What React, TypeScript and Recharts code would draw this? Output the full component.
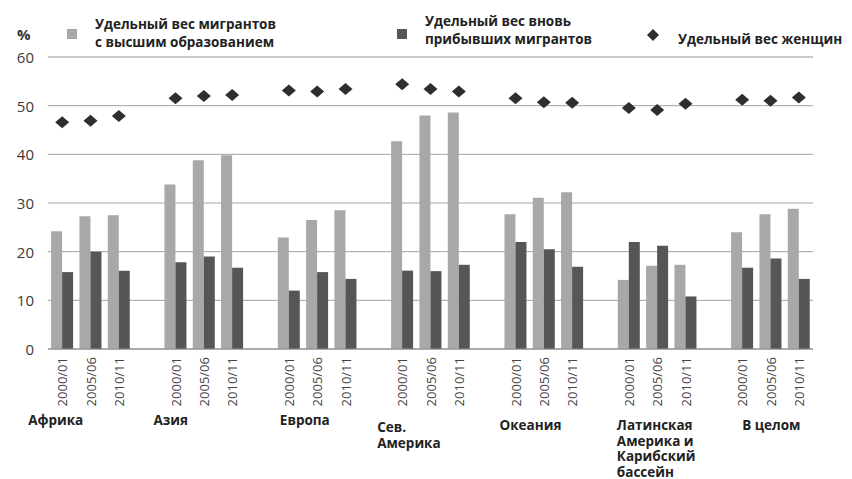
import React from 'react';
import { ComposedChart, Bar, Line, XAxis, YAxis, CartesianGrid } from 'recharts';

const periods = ['2000/01', '2005/06', '2010/11'];
const regionLines = [
  ['Африка'],
  ['Азия'],
  ['Европа'],
  ['Сев.', 'Америка'],
  ['Океания'],
  ['Латинская', 'Америка и', 'Карибский', 'бассейн'],
  ['В целом'],
];
const higherEd = [
  [24.2, 27.3, 27.5],
  [33.8, 38.8, 39.8],
  [22.9, 26.5, 28.5],
  [42.7, 48.0, 48.6],
  [27.7, 31.1, 32.2],
  [14.2, 17.1, 17.3],
  [24.0, 27.7, 28.8],
];
const newArrivals = [
  [15.8, 20.0, 16.1],
  [17.8, 19.0, 16.7],
  [12.0, 15.8, 14.4],
  [16.1, 16.0, 17.3],
  [22.0, 20.5, 16.9],
  [22.0, 21.2, 10.8],
  [16.7, 18.6, 14.4],
];
const women = [
  [46.6, 46.9, 47.9],
  [51.5, 52.0, 52.2],
  [53.1, 52.9, 53.4],
  [54.4, 53.4, 52.9],
  [51.5, 50.7, 50.6],
  [49.5, 49.1, 50.4],
  [51.2, 51.0, 51.7],
];
const yTicks = [0, 10, 20, 30, 40, 50, 60];
const minorTicks = [2, 4, 6, 8, 12, 14, 16, 18, 22, 24, 26, 28, 32, 34, 36, 38, 42, 44, 46, 48, 52, 54, 56, 58];

// layout tweaks for region captions (offset from first category centre)
const labelDx = [-34, -22, -9, -25, -16, -12, 0];
const labelDy = [71, 71, 71, 78, 76, 76, 76];

type Row = {
  key: string;
  period: string;
  region: number;
  pos: number;
  edu: number | null;
  arr: number | null;
  wom: number | null;
};

const data: Row[] = [];
regionLines.forEach((_, r) => {
  periods.forEach((p, i) => {
    data.push({ key: `${r}|${p}`, period: p, region: r, pos: i, edu: higherEd[r][i], arr: newArrivals[r][i], wom: women[r][i] });
  });
  if (r < regionLines.length - 1) {
    data.push({ key: `gap${r}`, period: '', region: r, pos: -1, edu: null, arr: null, wom: null });
  }
});

const FONT = '"Open Sans", sans-serif';
const LIGHT = '#a8a8a8';
const DARK = '#565656';
const DIAMOND = '#2e2e2e';
const W = 852;
const H = 479;
const MARGIN = { top: 57, right: 39, left: 0, bottom: 0 };

const XTick = (props: any) => {
  const { x, y, payload } = props;
  const row = data.find((d) => d.key === payload.value);
  if (!row || row.pos < 0) return <g />;
  const axisY = y - 8;
  const lx = x + labelDx[row.region];
  return (
    <g>
      <text
        transform={`translate(${x},${axisY + 8}) rotate(-90)`}
        textAnchor="end"
        dominantBaseline="central"
        fontFamily={FONT}
        fontSize={13}
        fill="#444"
      >
        {row.period}
      </text>
      {row.pos === 0 && (
        <text
          x={lx}
          y={axisY + labelDy[row.region] + 5}
          fontFamily={FONT}
          fontSize={13.5}
          fontWeight={700}
          fill="#222"
        >
          {regionLines[row.region].map((line, li) => (
            <tspan key={li} x={lx} dy={li === 0 ? 0 : 15.5}>
              {line}
            </tspan>
          ))}
        </text>
      )}
    </g>
  );
};

const YTick = (props: any) => {
  const { y, payload } = props;
  return (
    <text x={34} y={y} textAnchor="end" dominantBaseline="central" fontFamily={FONT} fontSize={15} fill="#3a3a3a">
      {payload.value}
    </text>
  );
};

const DiamondDot = (props: any) => {
  const { cx, cy, value } = props;
  if (value == null || cx == null || cy == null) return <g key={props.key} />;
  return (
    <path
      key={props.key}
      d={`M${cx},${cy - 6} L${cx + 7},${cy} L${cx},${cy + 6} L${cx - 7},${cy} Z`}
      fill={DIAMOND}
    />
  );
};

const legendText: React.CSSProperties = {
  position: 'absolute',
  fontFamily: FONT,
  fontWeight: 700,
  fontSize: 13.5,
  color: '#222',
  lineHeight: '18px',
  whiteSpace: 'nowrap',
};

export default function App() {
  return (
    <div style={{ position: 'absolute', left: 0, top: 0, width: W, height: H, background: '#fff', overflow: 'hidden' }}>
      {/* minor gridlines, drawn behind the main chart with the same layout */}
      <div style={{ position: 'absolute', left: 0, top: 0 }}>
        <ComposedChart width={W} height={H} data={data} margin={MARGIN}>
          <CartesianGrid vertical={false} stroke="#e0e0e0" strokeWidth={1} />
          <XAxis dataKey="key" interval={0} height={130} tick={false} tickLine={false} axisLine={false} />
          <YAxis domain={[0, 60]} ticks={minorTicks} width={48} tick={false} tickLine={false} axisLine={false} />
        </ComposedChart>
      </div>
      <div style={{ position: 'absolute', left: 0, top: 0 }}>
        <ComposedChart width={W} height={H} data={data} margin={MARGIN} barCategoryGap="11%" barGap={0}>
          <CartesianGrid vertical={false} stroke="#a3a3a3" strokeWidth={1} />
          <XAxis
            dataKey="key"
            interval={0}
            height={130}
            tickLine={false}
            axisLine={{ stroke: '#8f8f8f' }}
            tick={<XTick />}
          />
          <YAxis
            domain={[0, 60]}
            ticks={yTicks}
            width={48}
            axisLine={false}
            tickLine={false}
            tick={<YTick />}
          />
          <Bar dataKey="edu" fill={LIGHT} isAnimationActive={false} />
          <Bar dataKey="arr" fill={DARK} isAnimationActive={false} />
          <Line
            dataKey="wom"
            stroke="none"
            dot={DiamondDot}
            activeDot={false}
            isAnimationActive={false}
            connectNulls={false}
          />
        </ComposedChart>
      </div>
      <div style={{ position: 'absolute', left: 17, top: 24, fontFamily: FONT, fontWeight: 700, fontSize: 15, color: '#333' }}>%</div>
      <div style={{ position: 'absolute', left: 67, top: 29, width: 10, height: 10, background: LIGHT }} />
      <div style={{ ...legendText, left: 95, top: 15 }}>
        Удельный вес мигрантов
        <br />
        с высшим образованием
      </div>
      <div style={{ position: 'absolute', left: 397, top: 29, width: 10, height: 10, background: DARK }} />
      <div style={{ ...legendText, left: 425, top: 12 }}>
        Удельный вес вновь
        <br />
        прибывших мигрантов
      </div>
      <svg style={{ position: 'absolute', left: 647, top: 29 }} width={12} height={12}>
        <path d="M6,0 L12,6 L6,12 L0,6 Z" fill={DIAMOND} />
      </svg>
      <div style={{ ...legendText, left: 678, top: 30 }}>Удельный вес женщин</div>
    </div>
  );
}
